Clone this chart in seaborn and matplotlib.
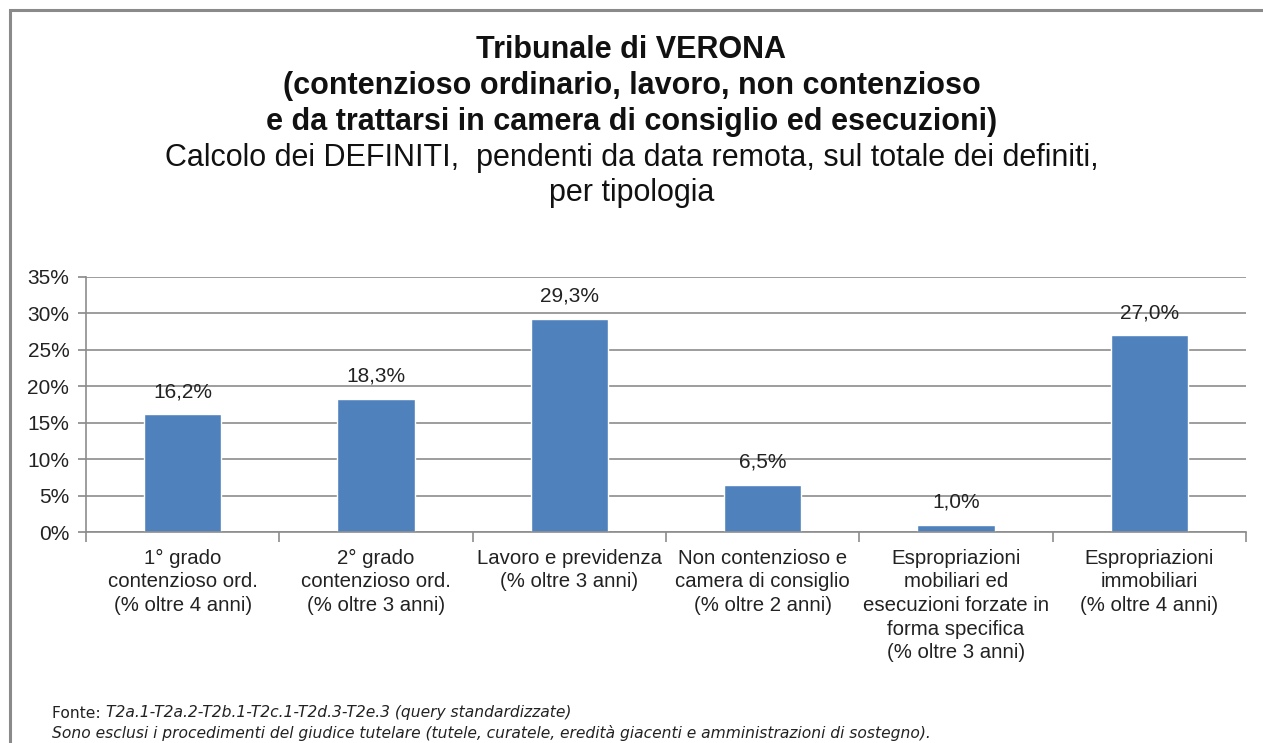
import matplotlib
matplotlib.use("Agg")
import matplotlib.pyplot as plt
import seaborn as sns
import pandas as pd
from matplotlib.patches import Rectangle
from matplotlib.ticker import FixedLocator, FuncFormatter

categories = [
    "1° grado\ncontenzioso ord.\n(% oltre 4 anni)",
    "2° grado\ncontenzioso ord.\n(% oltre 3 anni)",
    "Lavoro e previdenza\n(% oltre 3 anni)",
    "Non contenzioso e\ncamera di consiglio\n(% oltre 2 anni)",
    "Espropriazioni\nmobiliari ed\nesecuzioni forzate in\nforma specifica\n(% oltre 3 anni)",
    "Espropriazioni\nimmobiliari\n(% oltre 4 anni)",
]
values = [0.162, 0.183, 0.293, 0.065, 0.010, 0.270]
yticks = [0.0, 0.05, 0.10, 0.15, 0.20, 0.25, 0.30, 0.35]

title_bold_lines = [
    "Tribunale di VERONA",
    "(contenzioso ordinario, lavoro, non contenzioso",
    "e da trattarsi in camera di consiglio ed esecuzioni)",
]
title_normal_lines = [
    "Calcolo dei DEFINITI,  pendenti da data remota, sul totale dei definiti,",
    "per tipologia",
]
footer1_a = "Fonte: "
footer1_b = "T2a.1-T2a.2-T2b.1-T2c.1-T2d.3-T2e.3 (query standardizzate)"
footer2 = ("Sono esclusi i procedimenti del giudice tutelare (tutele, curatele, eredità giacenti "
           "e amministrazioni di sostegno).")

sns.set_theme(style="white")
plt.rcParams['font.family'] = ['Liberation Sans', 'DejaVu Sans']

W, H = 1263, 743
fig = plt.figure(figsize=(W / 100, H / 100), dpi=100)

# outer frame
fig.patches.append(Rectangle((10 / W, -0.05), 1.2, 1 - 10 / H + 0.05, transform=fig.transFigure,
                             fill=False, edgecolor="#8a8a8a", linewidth=2.2))

ax = fig.add_axes([86 / W, 1 - 532 / H, (1246 - 86) / W, (532 - 277) / H])
df = pd.DataFrame({"cat": categories, "val": values})
sns.barplot(data=df, x="cat", y="val", color="#4F81BD", saturation=1, width=0.4, ax=ax)

ax.set_ylim(0, 0.35)
ax.set_xlim(-0.5, len(categories) - 0.5)
ax.yaxis.set_major_locator(FixedLocator(yticks))
ax.yaxis.set_major_formatter(FuncFormatter(lambda v, p: f"{round(v * 100)}%"))
ax.grid(axis="y", color="#8c8c8c", linewidth=1.2)
ax.set_axisbelow(True)
for s in ["top", "right"]:
    ax.spines[s].set_visible(False)
for s in ["left", "bottom"]:
    ax.spines[s].set_color("#8c8c8c")
    ax.spines[s].set_linewidth(1.2)
ax.set_xlabel("")
ax.set_ylabel("")
ax.tick_params(axis="y", which="major", left=True, length=6, color="#8c8c8c",
               labelsize=15, labelcolor="#222222", pad=6)
ax.tick_params(axis="x", which="major", bottom=False, labelsize=14.7, labelcolor="#222222", pad=6)
ax.set_xticks([i - 0.5 for i in range(len(categories) + 1)], minor=True)
ax.tick_params(axis="x", which="minor", bottom=True, length=7, color="#8c8c8c", width=1.2)
for lab in ax.get_xticklabels():
    lab.set_linespacing(1.31)

for i, v in enumerate(values):
    ax.annotate(f"{v * 100:.1f}%".replace(".", ","), (i, v), xytext=(0, 16),
                textcoords="offset points", ha="center", va="center",
                fontsize=15, color="#222222")

baselines = [58, 94, 130, 166, 201]
for j, line in enumerate(title_bold_lines):
    fig.text(0.5, 1 - baselines[j] / H, line, ha="center", va="baseline", fontsize=22,
             fontweight="bold", color="#111111")
for j, line in enumerate(title_normal_lines):
    fig.text(0.5, 1 - baselines[3 + j] / H, line, ha="center", va="baseline", fontsize=22,
             color="#111111")

t1 = fig.text(52 / W, 1 - 713 / H, footer1_a, ha="left", va="center", fontsize=11.2,
              color="#222222", family=["DejaVu Sans"])
fig.canvas.draw()
bb = t1.get_window_extent()
fig.text(bb.x1 / W, 1 - 713 / H, footer1_b, ha="left", va="center", fontsize=11.2,
         color="#222222", style="italic", family=["DejaVu Sans"])
fig.text(52 / W, 1 - 733 / H, footer2, ha="left", va="center", fontsize=11.2,
         color="#222222", style="italic", family=["DejaVu Sans"])

fig.savefig("out.png", dpi=100)
